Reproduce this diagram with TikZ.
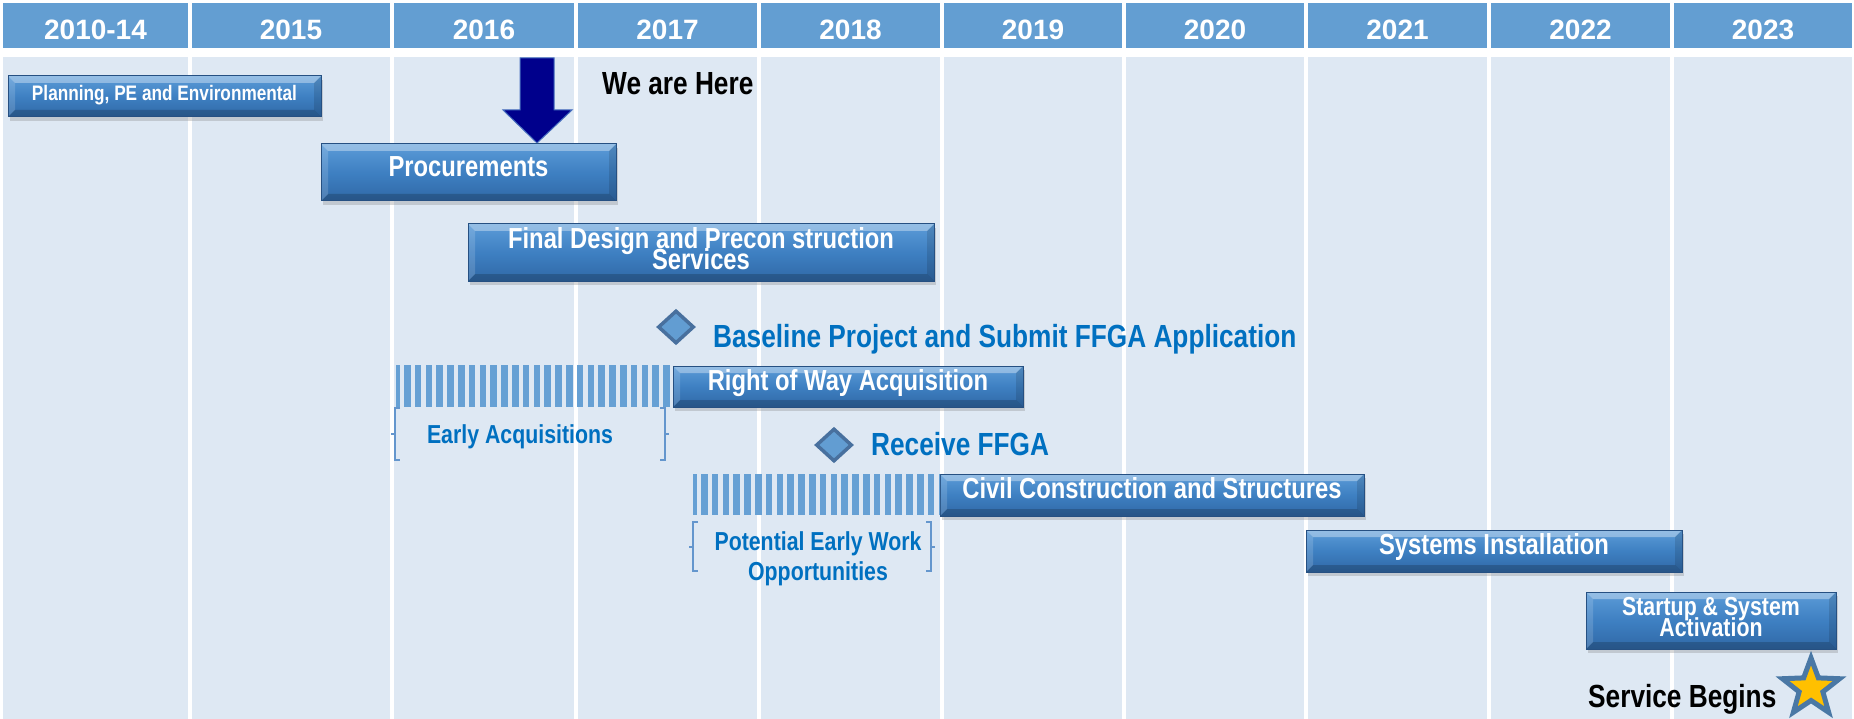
\documentclass[tikz,border=0pt]{standalone}
\usepackage{fontspec}
\setmainfont{Liberation Sans}
\newfontfamily\narrowsf{Liberation Sans}[FakeStretch=0.82]
\usetikzlibrary{shapes.geometric,shadows}

\definecolor{headblue}{RGB}{99,158,210}
\definecolor{cellblue}{RGB}{222,232,243}
\definecolor{bartop}{RGB}{92,156,216}
\definecolor{barmid}{RGB}{62,128,194}
\definecolor{barbot}{RGB}{48,104,166}
\definecolor{barline}{RGB}{38,80,130}
\definecolor{stripeblue}{RGB}{102,160,212}
\definecolor{bracketblue}{RGB}{100,150,205}
\definecolor{textblue}{RGB}{0,112,192}
\definecolor{gemfill}{RGB}{98,157,210}
\definecolor{gemline}{RGB}{72,112,158}
\definecolor{navy}{RGB}{0,0,140}
\definecolor{navyedge}{RGB}{70,110,190}
\definecolor{gold}{RGB}{255,192,0}
\definecolor{stargray}{RGB}{74,120,165}

\newcommand\barfont[1]{\narrowsf\bfseries\fontsize{#1}{21}\selectfont\lineskiplimit=-100pt}
\newcommand\lowstrut{\rule[-8pt]{0pt}{8pt}}
\newcommand\barbevel{%
  \fill[white,opacity=.35] (path picture bounding box.north west) -- (path picture bounding box.north east)
    -- ([xshift=-7pt,yshift=-7pt]path picture bounding box.north east) -- ([xshift=7pt,yshift=-7pt]path picture bounding box.north west) -- cycle;
  \fill[black,opacity=.18] (path picture bounding box.south west) -- (path picture bounding box.south east)
    -- ([xshift=-7pt,yshift=7pt]path picture bounding box.south east) -- ([xshift=7pt,yshift=7pt]path picture bounding box.south west) -- cycle;
  \fill[white,opacity=.15] (path picture bounding box.north west) -- ([xshift=7pt,yshift=-7pt]path picture bounding box.north west)
    -- ([xshift=7pt,yshift=7pt]path picture bounding box.south west) -- (path picture bounding box.south west) -- cycle;
  \fill[black,opacity=.12] (path picture bounding box.north east) -- ([xshift=-7pt,yshift=-7pt]path picture bounding box.north east)
    -- ([xshift=-7pt,yshift=7pt]path picture bounding box.south east) -- (path picture bounding box.south east) -- cycle;
}

\begin{document}
\begin{tikzpicture}[x=1pt, y=-1pt,
  year/.style={font=\bfseries\fontsize{28}{30}\selectfont, text=white, inner sep=0pt},
  bar/.style={draw=barline, line width=1pt, top color=bartop, bottom color=barbot, middle color=barmid,
    text=white, inner sep=0pt, align=center,
    drop shadow={opacity=0.3, shadow xshift=2pt, shadow yshift=-4pt}, path picture={\barbevel}},
  oneline/.style={text height=0.72em, text depth=0pt},
  note/.style={font=\barfont{32}, inner sep=0pt},
  bluenote/.style={font=\barfont{26}, text=textblue, inner sep=0pt, align=center},
  milestone/.style={diamond, fill=gemfill, draw=gemline, line width=3.5pt, minimum width=36, minimum height=33, inner sep=0pt},
  bracket/.style={draw=bracketblue, line width=1.5pt}]

	\useasboundingbox[fill=white] (0,0) rectangle (1854,719);

	% Rows
	\def\hdtop{3}
	\def\hdbot{48}
	\def\bodytop{57}

	% Years and columns
	\foreach \xa/\xb/\yr in {0/189/2010-14, 189/391/2015, 391/575/2016, 575/758/2017, 758/941/2018,
	                        941/1123/2019, 1123/1305/2020, 1305/1488/2021, 1488/1671/2022, 1671/1853/2023} {
		\fill[headblue] (\xa+3,\hdtop) rectangle (\xb-1,\hdbot);
		\fill[cellblue] (\xa+3,\bodytop) rectangle (\xb-1,719);
		\node[year] (yr\yr) at ({(\xa+\xb)/2+1},29.5) {\yr};
	}

	% We are here
	\fill[navy, draw=navyedge, line width=1pt] (520,58) -- (554,58) -- (554,110) -- (572,110)
	   -- (537,143) -- (503,110) -- (520,110) -- cycle;
	\node[note, anchor=base west] (here) at (602,94.5) {We are Here};

	% Phases
	\node[bar, oneline, font=\barfont{21}, minimum width=313, minimum height=41] (plan) at (164.5,96.5) {Planning, PE and Environmental};
	\node[bar, oneline, font=\barfont{29}, minimum width=295, minimum height=57] (procure) at (468.5,172.5) {Procurements};
	\node[bar, font=\barfont{29}, minimum width=466, minimum height=57] (design) at (701,252.5) {Final Design and Precon struction\\Services\lowstrut};
	\node[bar, oneline, font=\barfont{29}, minimum width=350, minimum height=41] (row) at (848,386.5) {Right of Way Acquisition};
	\node[bar, oneline, font=\barfont{29}, minimum width=424, minimum height=42] (civil) at (1152,495) {Civil Construction and Structures};
	\node[bar, oneline, font=\barfont{29}, minimum width=376, minimum height=42] (systems) at (1494,551) {Systems Installation};
	\node[bar, font=\barfont{26}, minimum width=250, minimum height=57] (startup) at (1711,620.5) {Startup \& System\\Activation\lowstrut};

	% Milestones
	\node[milestone] (ms1) at (676,327) {};
	\node[note, text=textblue, anchor=base west] (baseline) at (713,347) {Baseline Project and Submit FFGA Application};
	\node[milestone] (ms2) at (834,445) {};
	\node[note, text=textblue, anchor=base west] (ffga) at (871,455) {Receive FFGA};

	% Early acquisitions
	\begin{scope}
		\clip (396,365) rectangle (670,407);
		\foreach \sx in {393.2,404,...,670} \fill[stripeblue] (\sx,365) rectangle ++(6.5,42);
	\end{scope}
	\draw[bracket] (400,408) -- (395,408) -- (395,460) -- (400,460) (395,434) -- (391,434);
	\draw[bracket] (660,408) -- (665,408) -- (665,460) -- (660,460) (665,434) -- (669,434);
	\node[bluenote, anchor=base] (early) at (520,443) {Early Acquisitions};

	% Early work
	\begin{scope}
		\clip (693,474) rectangle (940,515);
		\foreach \sx in {690.2,701,...,940} \fill[stripeblue] (\sx,474) rectangle ++(6.5,41);
	\end{scope}
	\draw[bracket] (698,522) -- (693,522) -- (693,571) -- (698,571) (693,547) -- (689,547);
	\draw[bracket] (926,522) -- (931,522) -- (931,571) -- (926,571) (931,547) -- (935,547);
	\node[bluenote, text depth=0pt] (earlywork) at (818,556) {Potential Early Work\\[9pt]Opportunities};

	% Service
	\node[note, anchor=base west] (service) at (1588,707) {Service Begins};
	\node[star, star points=5, star point ratio=2.4, fill=gold, draw=stargray, line width=5pt,
	      minimum size=60, inner sep=0pt] (svcstar) at (1811,688) {};

\end{tikzpicture}
\end{document}
